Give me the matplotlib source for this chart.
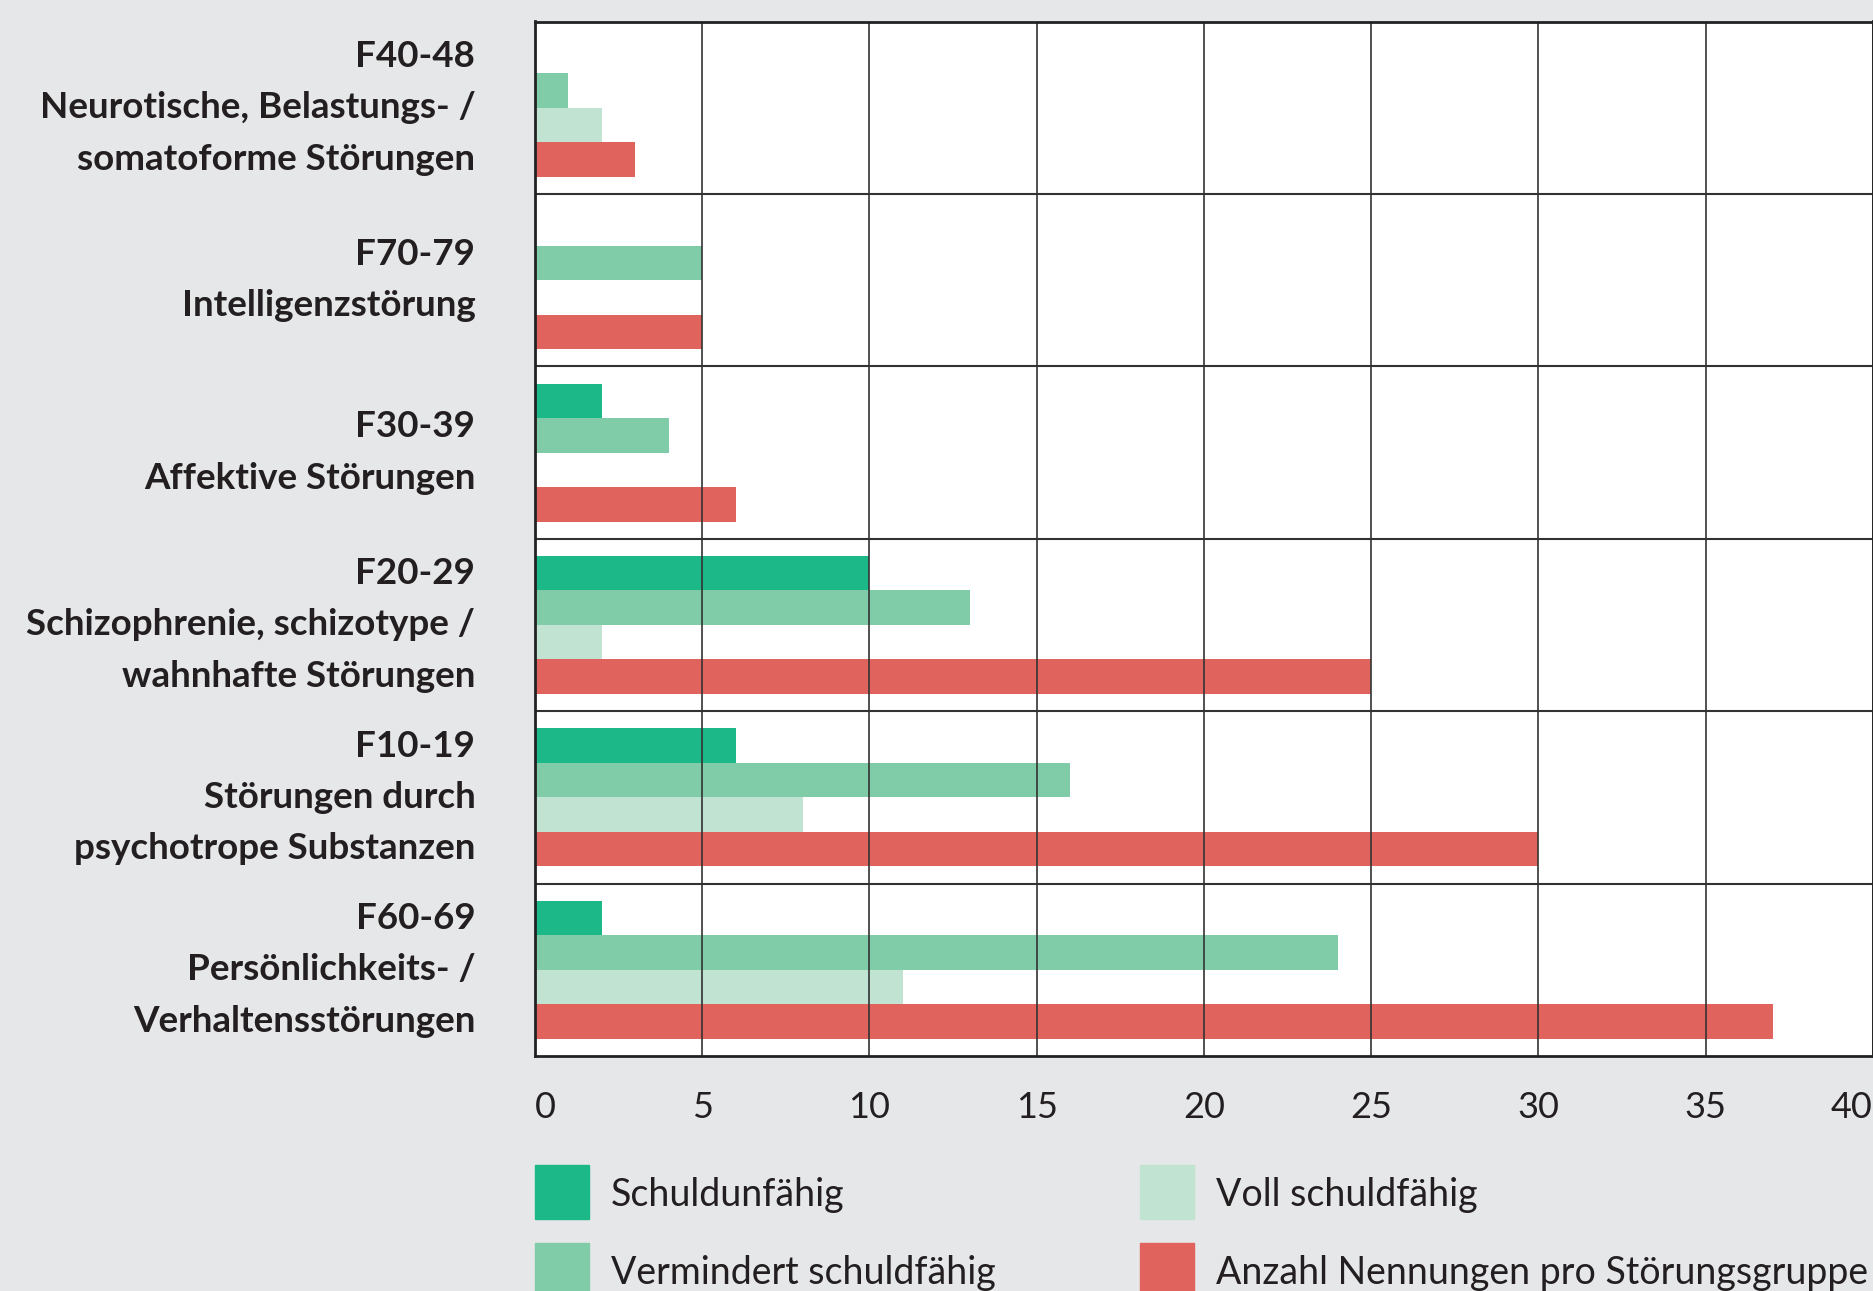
import numpy as np
import matplotlib.pyplot as plt
from matplotlib.patches import Rectangle

groups = ['F40-48\nNeurotische, Belastungs- /\nsomatoforme Störungen',
          'F70-79\nIntelligenzstörung',
          'F30-39\nAffektive Störungen',
          'F20-29\nSchizophrenie, schizotype /\nwahnhafte Störungen',
          'F10-19\nStörungen durch\npsychotrope Substanzen',
          'F60-69\nPersönlichkeits- /\nVerhaltensstörungen']
series = ['Schuldunfähig', 'Vermindert schuldfähig', 'Voll schuldfähig',
          'Anzahl Nennungen pro Störungsgruppe']
schuldunfaehig = [0, 0, 2, 10, 6, 2]
vermindert = [1, 5, 4, 13, 16, 24]
voll = [2, 0, 0, 2, 8, 11]
anzahl = [3, 5, 6, 25, 30, 37]
xticks = [0, 5, 10, 15, 20, 25, 30, 35, 40]

colors = ['#1db888', '#80cba8', '#c0e3d2', '#e0635d']
bg = '#e6e7e9'
font = 'Lato'

fig = plt.figure(figsize=(18.74, 12.91), dpi=100, facecolor=bg)
ax = fig.add_axes([535/1874, 1 - 1056/1291, 1338/1874, (1056 - 21.5)/1291])

y = np.arange(len(groups))
h = 0.2
for k, vals in enumerate([schuldunfaehig, vermindert, voll, anzahl]):
    ax.barh(y + (k - 1.5) * h, vals, height=h, color=colors[k], zorder=1)

ax.set_xlim(0, 40)
ax.set_ylim(5.5, -0.5)
ax.set_xticks(xticks)
ax.set_yticks(y)
ax.set_yticks(np.arange(0.5, 5.5, 1), minor=True)
ax.set_yticklabels(groups, fontsize=26.5, fontweight='bold', family=font,
                   color='#231f20', linespacing=1.68)
for lab in ax.get_yticklabels():
    lab.set_va('center')
ax.set_xticklabels([str(t) for t in xticks], fontsize=26, family=font,
                   color='#231f20')
labels = ax.get_xticklabels()
labels[0].set_ha('left')
labels[-1].set_ha('right')
ax.tick_params(axis='both', which='both', length=0)
ax.tick_params(axis='y', pad=43)
ax.tick_params(axis='x', pad=25)
ax.grid(axis='x', which='major', color='#333333', linewidth=1.2, zorder=2.5)
ax.grid(axis='y', which='minor', color='#333333', linewidth=1.5, zorder=2.5)
ax.set_axisbelow(False)
for s in ax.spines.values():
    s.set_color('#222222')
    s.set_linewidth(2)
    s.set_zorder(3)

# legend
W, H = 1874, 1291
for k, name in enumerate(series):
    col, row = k // 2, k % 2
    x0 = 535 if col == 0 else 1140
    y0 = 1165 + row * 78
    fig.patches.append(Rectangle((x0 / W, 1 - (y0 + 54) / H), 54 / W, 54 / H,
                                 transform=fig.transFigure, color=colors[k]))
    fig.text((x0 + 76) / W, 1 - (y0 + 30) / H, name, fontsize=27, family=font,
             color='#231f20', va='center', ha='left')

fig.savefig('out.png', dpi=100, facecolor=bg)
